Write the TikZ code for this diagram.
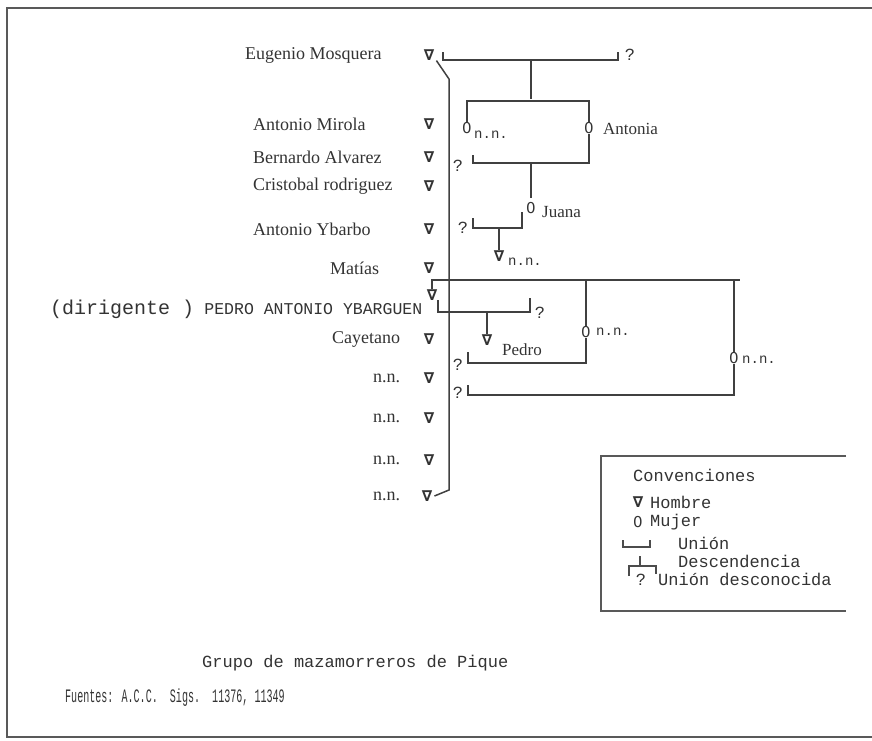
\documentclass[tikz,border=0pt]{standalone}
\usepackage{fontspec}
\setmainfont{Liberation Serif}
\newfontfamily\typew{Liberation Mono}
\newfontfamily\condtypew[FakeStretch=0.53]{Liberation Mono}
\newfontfamily\symfont{DejaVu Sans}
\usetikzlibrary{positioning}

\begin{document}
\begin{tikzpicture}[x=1pt, y=-1pt,
    every node/.style={inner sep=0pt, text=black!80},
    person/.style={font=\fontsize{18}{18}\selectfont, anchor=west},
    kin/.style={font=\fontsize{17}{17}\selectfont, anchor=west},
    male/.style={font=\symfont\bfseries\fontsize{15}{15}\selectfont},
    female/.style={font=\symfont\fontsize{15}{15}\selectfont},
    nn/.style={font=\typew\fontsize{14}{14}\selectfont, anchor=west},
    tw/.style={font=\typew\fontsize{17}{17}\selectfont, anchor=west},
    ask/.style={font=\typew\fontsize{17}{17}\selectfont},
    link/.style={line width=1.5pt, draw=black!75},
    thin/.style={line width=1.1pt, draw=black!70}]

  \useasboundingbox (0,0) rectangle (872,740);
  % frame
  \draw[line width=1.4pt, black!65] (872,8) -- (7,8) -- (7,737) -- (872,737);

  % names column
  \node[person] (eugenio) at (245,55) {Eugenio Mosquera};
  \node[male] (m-eugenio) at (429,55) {∇};
  \node[person] (mirola) at (253,124) {Antonio Mirola};
  \node[male] (m-mirola) at (429,124) {∇};
  \node[person] (alvarez) at (253,157) {Bernardo Alvarez};
  \node[male] (m-alvarez) at (429,157) {∇};
  \node[person] (rodriguez) at (253,186) {Cristobal rodriguez};
  \node[male] (m-rodriguez) at (429,186) {∇};
  \node[person] (ybarbo) at (253,229) {Antonio Ybarbo};
  \node[male] (m-ybarbo) at (429,229) {∇};
  \node[person] (matias) at (330,268) {Matías};
  \node[male] (m-matias) at (429,268) {∇};
  \node[tw] (pedroant) at (50,309) {{\fontsize{20}{20}\selectfont(dirigente )} {\fontsize{16.5}{17}\selectfont PEDRO ANTONIO YBARGUEN}};
  \node[male] (m-pedroant) at (432,295) {∇};
  \node[person] (cayetano) at (332,339) {Cayetano};
  \node[male] (m-cayetano) at (429,339) {∇};
  \node[person] (nn-a) at (373,378) {n.n.};
  \node[male] (m-nn-a) at (429,378) {∇};
  \node[person] (nn-b) at (373,418) {n.n.};
  \node[male] (m-nn-b) at (429,418) {∇};
  \node[person] (nn-c) at (373,460) {n.n.};
  \node[male] (m-nn-c) at (429,460) {∇};
  \node[person] (nn-d) at (373,496) {n.n.};
  \node[male] (m-nn-d) at (427,496) {∇};

  % group line
  \coordinate (grp-top) at (449,79);
  \coordinate (grp-bot) at (449,490);
  \draw[link] ([xshift=2pt]m-eugenio.south east) -- (grp-top) -- (grp-bot) -- ([xshift=2pt]m-nn-d.east);

  % Eugenio Mosquera union
  \coordinate (eug-l) at (443,60);
  \coordinate (eug-r) at (618,60);
  \coordinate (eug-d) at (531,60);
  \node[ask] (q-eug) at (630,55) {?};
  \draw[link] (eug-l) ++(0,-8) -- (eug-l) -- (eug-r) -- ++(0,-8);

  % daughters
  \node[female] (f-nn1) at (467,128) {0};
  \node[nn] (l-nn1) at (474,135) {n.n.};
  \node[female] (f-antonia) at (589,128) {0};
  \node[kin] (l-antonia) at (603,129) {Antonia};
  \coordinate (sib1) at (531,99);
  \draw[link] (eug-d) -- (sib1);
  \draw[link] (f-nn1.north) -- ++(0,-21) -| (f-antonia.north);

  % Antonia union
  \coordinate (ant-l) at (473,163);
  \coordinate (ant-d) at (531,163);
  \node[ask] (q-ant) at (458,166) {?};
  \draw[link] (f-antonia.south) |- (ant-l) -- ++(0,-8);

  % Juana
  \node[female] (f-juana) at (531,208) {0};
  \node[kin] (l-juana) at (542,212) {Juana};
  \draw[link] (ant-d) -- ++(0,35);
  \coordinate (jua-r) at (522,228);
  \coordinate (jua-l) at (473,228);
  \coordinate (jua-d) at (499,228);
  \node[ask] (q-jua) at (463,228) {?};
  \draw[link] (jua-l) ++(0,-10) -- (jua-l) -- (jua-r) -- ++(0,-16);
  \node[male] (m-nn2) at (499,256) {∇};
  \node[nn] (l-nn2) at (508,262) {n.n.};
  \draw[link] (jua-d) -- (m-nn2.north);

  % siblings of Pedro Antonio
  \node[female] (f-nn3) at (586,332) {0};
  \node[nn] (l-nn3) at (596,332) {n.n.};
  \node[female] (f-nn4) at (734,358) {0};
  \node[nn] (l-nn4) at (742,360) {n.n.};
  \coordinate (sib2) at (432,280);
  \draw[link] (m-pedroant.north) -- (sib2) -- (740,280);
  \draw[link] (586,280) -- (f-nn3.north);
  \draw[link] (734,280) -- (f-nn4.north);

  % Pedro Antonio union
  \coordinate (ped-l) at (438,312);
  \coordinate (ped-r) at (530,312);
  \coordinate (ped-d) at (487,312);
  \node[ask] (q-ped) at (540,313) {?};
  \draw[link] (ped-l) ++(0,-12) -- (ped-l) -- (ped-r) -- ++(0,-14);
  \node[male] (m-pedro) at (487,340) {∇};
  \node[kin] (l-pedro) at (502,350) {Pedro};
  \draw[link] (ped-d) -- (m-pedro.north);

  % unions of the sisters
  \coordinate (nn3-l) at (468,363);
  \node[ask] (q-nn3) at (458,365) {?};
  \draw[link] (f-nn3.south) |- (nn3-l) -- ++(0,-11);
  \coordinate (nn4-l) at (468,395);
  \node[ask] (q-nn4) at (458,393) {?};
  \draw[link] (f-nn4.south) |- (nn4-l) -- ++(0,-10);

  % legend
  \draw[line width=1.2pt, black!65] (846,456) -- (601,456) -- (601,611) -- (846,611);
  \node[tw] (conv) at (633,475) {Convenciones};
  \node[male] (l-male) at (638,502) {∇};
  \node[tw] (hombre) at (650,502) {Hombre};
  \node[female] (l-female) at (638,522) {0};
  \node[tw] (mujer) at (650,522) {Mujer};
  \coordinate (lu-l) at (623,547);
  \coordinate (lu-r) at (650,547);
  \draw[thin] (lu-l) ++(0,-7) -- (lu-l) -- (lu-r) -- ++(0,-7);
  \node[tw] (union) at (678,543) {Unión};
  \coordinate (ld-t) at (640,556);
  \coordinate (ld-l) at (629,566);
  \coordinate (ld-r) at (656,566);
  \draw[thin] (ld-t) -- (640,566);
  \draw[thin] (ld-l) ++(0,10) -- (ld-l) -- (ld-r) -- ++(0,8);
  \node[tw] (desc) at (678,561) {Descendencia};
  \node[ask] (l-ask) at (641,580) {?};
  \node[tw] (unk) at (658,579) {Unión desconocida};

  % footer
  \node[tw] (title) at (202,663) {Grupo de mazamorreros de Pique};
  \node[tw, font=\condtypew\fontsize{19}{19}\selectfont] (src) at (65,698) {Fuentes: A.C.C.\ \ Sigs.\ \ 11376, 11349};
\end{tikzpicture}
\end{document}
